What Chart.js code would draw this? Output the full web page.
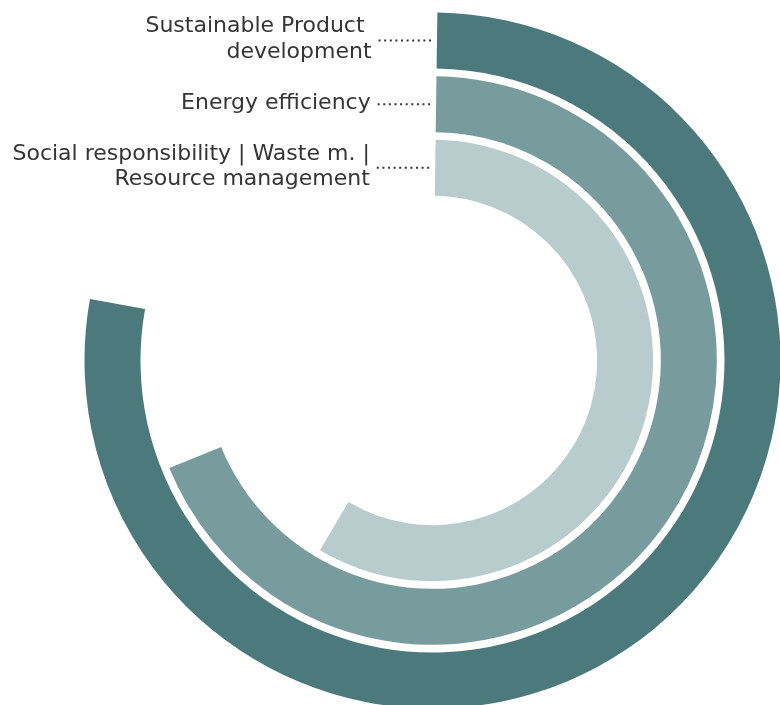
<!DOCTYPE html>
<html>
<head>
<meta charset="utf-8">
<script src="https://cdn.jsdelivr.net/npm/chart.js@4/dist/chart.umd.min.js"></script>
<style>
  html, body { margin: 0; padding: 0; background: #fff; }
  #wrap { width: 780px; height: 705px; }
</style>
</head>
<body>
<div id="wrap"><canvas id="rings" width="780" height="705"></canvas></div>
<script>
// categories, outer ring first
const categories = [
    ['Sustainable Product ', 'development'],
    ['Energy efficiency'],
    ['Social responsibility | Waste m. |', 'Resource management']
];
const values = [77.6, 68.6, 58.3];   // % of the full circle
const colors = ['#4b797c', '#789b9d', '#b8cbcd'];

const ringWeight = 56.5;
const gapWeight = 7.75;

// build datasets: ring, gap, ring, gap, ring
const datasets = [];
categories.forEach((cat, i) => {
    datasets.push({
        label: cat.join(' '),
        data: [values[i], 100 - values[i]],
        backgroundColor: [colors[i], 'rgba(0,0,0,0)'],
        borderWidth: 0,
        weight: ringWeight,
        isRing: true,
        lines: cat
    });
    if (i < categories.length - 1) {
        datasets.push({
            label: '',
            data: [100],
            backgroundColor: ['rgba(0,0,0,0)'],
            borderWidth: 0,
            weight: gapWeight
        });
    }
});

// labels on the left with dotted leaders
const ringLabels = {
    id: 'ringLabels',
    afterDatasetsDraw(chart) {
        const ctx = chart.ctx;
        ctx.save();
        ctx.font = '22px "DejaVu Sans"';
        ctx.fillStyle = '#353535';
        ctx.textAlign = 'right';
        ctx.textBaseline = 'alphabetic';
        chart.data.datasets.forEach((ds, di) => {
            if (!ds.isRing) return;
            const arc = chart.getDatasetMeta(di).data[0];
            const p = arc.getProps(['x', 'y', 'startAngle', 'innerRadius', 'outerRadius'], true);
            const rMid = (p.innerRadius + p.outerRadius) / 2;
            const ringX = p.x + p.innerRadius * Math.cos(p.startAngle);
            const lineY = p.y + rMid * Math.sin(p.startAngle);

            ctx.save();
            ctx.strokeStyle = '#353535';
            ctx.lineWidth = 2;
            ctx.setLineDash([2, 3.6]);
            ctx.beginPath();
            ctx.moveTo(ringX - 58, lineY);
            ctx.lineTo(ringX - 4, lineY);
            ctx.stroke();
            ctx.restore();

            const lh = 25.5;
            const n = ds.lines.length;
            const firstCenter = lineY - 3.5 - (n - 1) * lh / 2;
            ds.lines.forEach((txt, k) => {
                ctx.fillText(txt, ringX - 65, firstCenter + k * lh + 8);
            });
        });
        ctx.restore();
    }
};

new Chart(document.getElementById('rings'), {
    type: 'doughnut',
    data: {
        labels: ['value', 'rest'],
        datasets: datasets
    },
    options: {
        responsive: false,
        animation: false,
        rotation: 0.8,
        radius: 348,
        cutout: 163,
        clip: false,
        layout: { padding: { left: 85, right: 0, top: 16, bottom: 0 } },
        events: [],
        plugins: {
            legend: { display: false },
            tooltip: { enabled: false }
        }
    },
    plugins: [ringLabels]
});
</script>
</body>
</html>
